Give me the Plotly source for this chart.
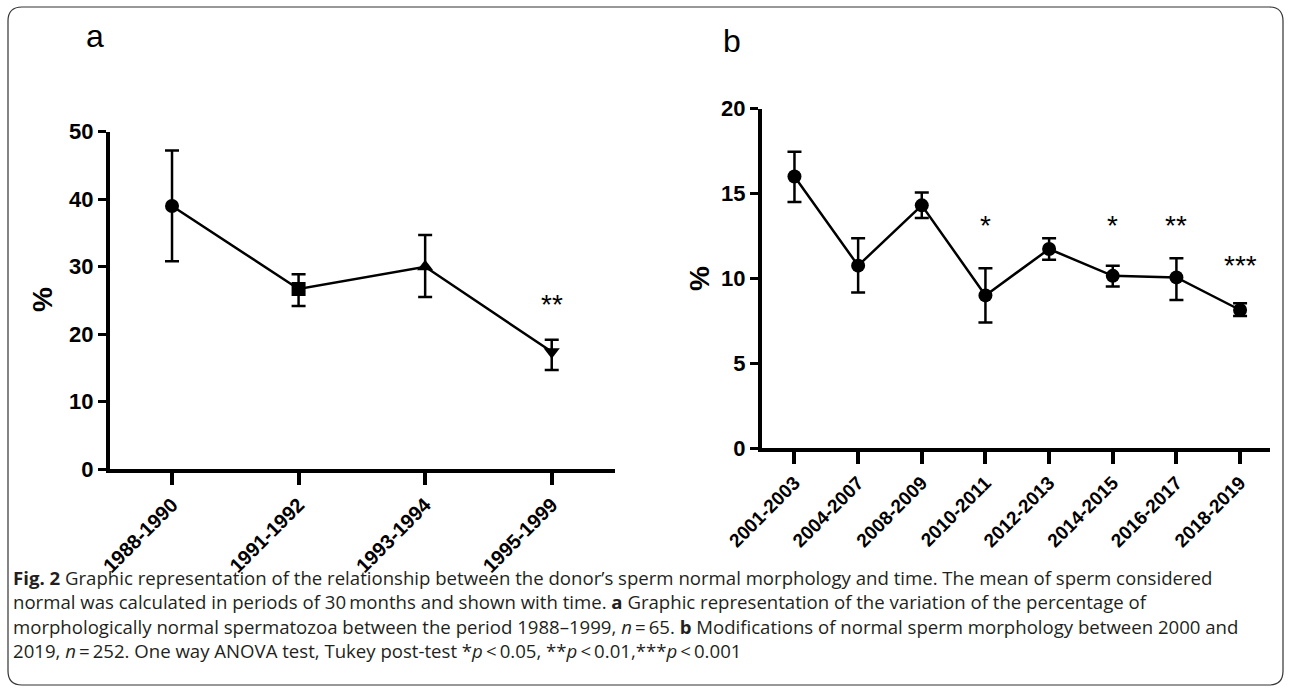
import plotly.graph_objects as go

W, H = 1291, 690

# ---------------- data ----------------
a_periods = ["1988-1990", "1991-1992", "1993-1994", "1995-1999"]
a_mean = [39.0, 26.7, 30.0, 17.4]
a_upper = [47.2, 28.9, 34.7, 19.2]
a_lower = [30.8, 24.2, 25.5, 14.7]
a_symbols = ["circle", "square", "triangle-up", "triangle-down"]
a_stars = ["", "", "", "**"]
a_star_y = [None, None, None, 24.8]
a_yticks = [0, 10, 20, 30, 40, 50]

b_periods = ["2001-2003", "2004-2007", "2008-2009", "2010-2011",
             "2012-2013", "2014-2015", "2016-2017", "2018-2019"]
b_mean = [16.0, 10.75, 14.3, 9.0, 11.73, 10.15, 10.06, 8.14]
b_upper = [17.45, 12.37, 15.05, 10.6, 12.37, 10.75, 11.18, 8.54]
b_lower = [14.5, 9.17, 13.55, 7.4, 11.1, 9.53, 8.73, 7.79]
b_stars = ["", "", "", "*", "", "*", "**", "***"]
b_star_y = [None, None, None, 13.35, None, 13.35, 13.35, 10.98]
b_yticks = [0, 5, 10, 15, 20]

caption_lines = [
    "<b>Fig. 2</b> Graphic representation of the relationship between the donor’s sperm normal morphology and time. The mean of sperm considered",
    "normal was calculated in periods of 30\u2009months and shown with time. <b>a</b> Graphic representation of the variation of the percentage of",
    "morphologically normal spermatozoa between the period 1988–1999, <i>n</i>\u2009=\u200965. <b>b</b> Modifications of normal sperm morphology between 2000 and",
    "2019, <i>n</i>\u2009=\u2009252. One way ANOVA test, Tukey post-test *<i>p</i>\u2009&lt;\u20090.05, **<i>p</i>\u2009&lt;\u20090.01,***<i>p</i>\u2009&lt;\u20090.001",
]


def px(x):
    return x / W


def py(y):
    return 1 - y / H


AXFONT = "Liberation Sans, Arial, sans-serif"

fig = go.Figure()

fig.add_trace(go.Scatter(
    x=a_periods, y=a_mean, mode="lines+markers",
    line=dict(color="black", width=2.5),
    marker=dict(symbol=a_symbols, size=14, color="black"),
    error_y=dict(type="data", symmetric=False,
                 array=[u - m for u, m in zip(a_upper, a_mean)],
                 arrayminus=[m - l for m, l in zip(a_mean, a_lower)],
                 color="black", thickness=2.5, width=7),
    cliponaxis=False, xaxis="x", yaxis="y", showlegend=False, hoverinfo="skip",
))

fig.add_trace(go.Scatter(
    x=b_periods, y=b_mean, mode="lines+markers",
    line=dict(color="black", width=2.5),
    marker=dict(symbol="circle", size=14, color="black"),
    error_y=dict(type="data", symmetric=False,
                 array=[u - m for u, m in zip(b_upper, b_mean)],
                 arrayminus=[m - l for m, l in zip(b_mean, b_lower)],
                 color="black", thickness=2.5, width=7),
    cliponaxis=False, xaxis="x2", yaxis="y2", showlegend=False, hoverinfo="skip",
))

common_x = dict(showgrid=False, zeroline=False, showline=True, linecolor="black",
                linewidth=4, ticks="outside", ticklen=12, tickwidth=4,
                tickcolor="black", tickangle=-45, type="category",
                automargin=False)
common_y = dict(showgrid=False, zeroline=False, showline=True, linecolor="black",
                linewidth=4, ticks="outside", ticklen=8, tickwidth=3,
                tickcolor="black", ticklabelstandoff=0, automargin=False,
                tickfont=dict(family=AXFONT, size=22, color="black", weight="bold"))

fig.update_layout(
    width=W, height=H,
    margin=dict(l=0, r=0, t=0, b=0, pad=0, autoexpand=False),
    paper_bgcolor="white", plot_bgcolor="white",
    xaxis=dict(common_x, domain=[px(110), px(615)], range=[-0.49, 3.5],
               anchor="y",
               tickfont=dict(family=AXFONT, size=20, color="black", weight="bold")),
    yaxis=dict(common_y, domain=[py(469.3), py(131.7)], range=[0, 50],
               tickvals=a_yticks, anchor="x"),
    xaxis2=dict(common_x, domain=[px(762), px(1270)], range=[-0.51, 7.47],
                anchor="y2",
                tickfont=dict(family=AXFONT, size=19, color="black", weight="bold")),
    yaxis2=dict(common_y, domain=[py(448.3), py(108.5)], range=[0, 20],
                tickvals=b_yticks, anchor="x2"),
)

ann = []
# significance stars
for cat, s, yv in zip(a_periods, a_stars, a_star_y):
    if s:
        ann.append(dict(x=cat, y=yv, xref="x", yref="y", text=s, showarrow=False,
                        font=dict(family=AXFONT, size=28, color="black"),
                        yanchor="middle", yshift=-3))
for cat, s, yv in zip(b_periods, b_stars, b_star_y):
    if s:
        ann.append(dict(x=cat, y=yv, xref="x2", yref="y2", text=s, showarrow=False,
                        font=dict(family=AXFONT, size=28, color="black"),
                        yanchor="middle", yshift=-4))

# panel letters
ann.append(dict(x=px(95), y=py(36), xref="paper", yref="paper", text="a",
                showarrow=False, font=dict(family=AXFONT, size=32, color="black"),
                xanchor="center", yanchor="middle"))
ann.append(dict(x=px(732), y=py(41), xref="paper", yref="paper", text="b",
                showarrow=False, font=dict(family=AXFONT, size=32, color="black"),
                xanchor="center", yanchor="middle"))
# y titles
ann.append(dict(x=px(43), y=py(300), xref="paper", yref="paper", text="<b>%</b>",
                showarrow=False, textangle=-90,
                font=dict(family=AXFONT, size=28, color="black"),
                xanchor="center", yanchor="middle"))
ann.append(dict(x=px(699), y=py(279), xref="paper", yref="paper", text="<b>%</b>",
                showarrow=False, textangle=-90,
                font=dict(family=AXFONT, size=28, color="black"),
                xanchor="center", yanchor="middle"))

# caption
cap_y = [577, 601.5, 626, 650.5]
for line, yy in zip(caption_lines, cap_y):
    ann.append(dict(x=px(11), y=py(yy), xref="paper", yref="paper", text=line,
                    showarrow=False, align="left", xanchor="left", yanchor="middle",
                    font=dict(family="Open Sans, sans-serif", size=18.6, color="#231f20")))

fig.update_layout(annotations=ann)

# rounded outer frame
x0, x1, y0, y1, r = 8, 1283, 7, 685, 14
path = (f"M {px(x0 + r)} {py(y0)} L {px(x1 - r)} {py(y0)} "
        f"Q {px(x1)} {py(y0)} {px(x1)} {py(y0 + r)} "
        f"L {px(x1)} {py(y1 - r)} Q {px(x1)} {py(y1)} {px(x1 - r)} {py(y1)} "
        f"L {px(x0 + r)} {py(y1)} Q {px(x0)} {py(y1)} {px(x0)} {py(y1 - r)} "
        f"L {px(x0)} {py(y0 + r)} Q {px(x0)} {py(y0)} {px(x0 + r)} {py(y0)} Z")
fig.add_shape(type="path", path=path, xref="paper", yref="paper",
              line=dict(color="#333333", width=1.2))

fig.write_html("out.html",
               config={"displayModeBar": False, "staticPlot": True},
               post_script="document.body.style.margin='0px';"
                           "document.body.style.padding='0px';"
                           "document.body.style.overflow='hidden';")
